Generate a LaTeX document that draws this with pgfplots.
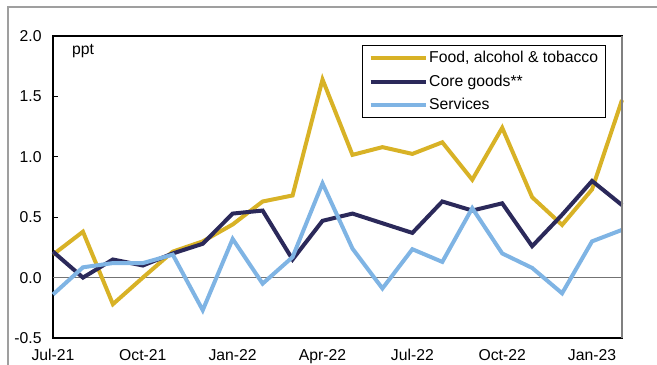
\documentclass[border=0pt]{standalone}
\usepackage{pgfplots}
\pgfplotsset{compat=1.18}
\usepackage{pgfplotstable}
\usepackage{fontspec}
\setmainfont{Liberation Sans}
\definecolor{gold}{HTML}{D8B226}
\definecolor{navy}{HTML}{2B295A}
\definecolor{lblue}{HTML}{7FB4E4}

\pgfplotstableread{
x food core serv
0 0.19 0.215 -0.14
1 0.38 0.00 0.085
2 -0.22 0.15 0.12
3 0.00 0.10 0.12
4 0.215 0.20 0.19
5 0.30 0.28 -0.27
6 0.44 0.53 0.32
7 0.63 0.555 -0.05
8 0.68 0.15 0.17
9 1.64 0.47 0.78
10 1.016 0.53 0.24
11 1.08 0.45 -0.09
12 1.024 0.37 0.235
13 1.12 0.63 0.13
14 0.81 0.555 0.575
15 1.24 0.615 0.20
16 0.665 0.26 0.08
17 0.436 0.52 -0.13
18 0.73 0.80 0.30
19 1.47 0.60 0.395
}\datatable

\begin{document}
\fontsize{15.8}{18}\selectfont
\begin{tikzpicture}
\useasboundingbox (0bp,0bp) rectangle (657bp,365bp);
\draw[gray!75, line width=1.5bp] (8bp,0bp) -- (8bp,358bp) -- (657bp,358bp);
\begin{axis}[
  at={(53bp,27bp)}, anchor=south west,
  scale only axis, width=569bp, height=302bp,
  xmin=0, xmax=19, ymin=-0.5, ymax=2.0,
  xtick={0,3,...,18},
  xticklabels={Jul-21,Oct-21,Jan-22,Apr-22,Jul-22,Oct-22,Jan-23},
  ytick={-0.5,0,0.5,1.0,1.5,2.0},
  /pgf/number format/assume math mode=true,
  yticklabel style={/pgf/number format/fixed, /pgf/number format/fixed zerofill, /pgf/number format/precision=1, xshift=-6bp},
  xtick style={draw=none},
  ytick pos=left, tick align=inside, major tick length=5bp,
  ytick style={black, line width=1bp},
  axis line style={black, line width=1.2bp},
  xticklabel style={yshift=-6bp},
  clip=false,
  legend cell align=left,
  legend style={at={(rel axis cs:0.972,0.970)}, anchor=north east,
    draw=black, line width=1bp, inner xsep=6bp, inner ysep=4bp,
    row sep=7bp,
    nodes={inner sep=1.5bp}},
  legend image code/.code={\draw[#1] (0bp,0bp) -- (55bp,0bp);},
]
\addplot[gray!90!black, line width=1.8bp, forget plot] coordinates {(0,0) (19,0)};
\addplot[gold, line width=4bp] table[x=x, y=food] {\datatable};
\addlegendentry{Food, alcohol \& tobacco}
\addplot[navy, line width=4bp] table[x=x, y=core] {\datatable};
\addlegendentry{Core goods**}
\addplot[lblue, line width=4bp] table[x=x, y=serv] {\datatable};
\addlegendentry{Services}
\draw[gray, line width=1.2bp] (rel axis cs:1,0) -- (rel axis cs:1,1);
\node[anchor=base west, inner sep=0] at ([xshift=19bp,yshift=-19bp]rel axis cs:0,1) {ppt};
\end{axis}
\end{tikzpicture}
\end{document}
